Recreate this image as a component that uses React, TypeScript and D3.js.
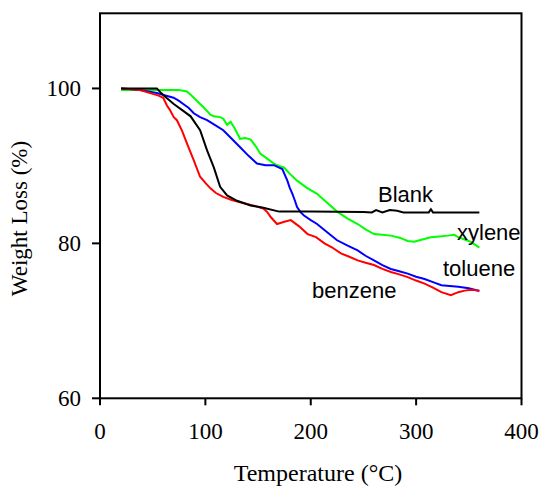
import React from "react";
import * as d3 from "d3";

const blankT = [20, 30, 40, 54, 58, 63, 70, 78, 86, 95, 101.6, 108, 114, 120.6, 130, 143, 155, 170, 200, 250, 258, 262, 268, 275, 282, 288, 300, 312, 314, 316, 340, 360];
const blankW = [100, 100, 100, 100, 99.4, 98.8, 98.0, 97.2, 96.4, 94.6, 92, 89.8, 87.3, 86.2, 85.5, 84.9, 84.6, 84.1, 84.1, 84.05, 84.0, 84.3, 84.0, 84.3, 84.2, 84.0, 84.0, 84.0, 84.4, 84.0, 84.0, 84.0];

const benzeneT = [20, 30, 38, 47.6, 55, 60, 63.5, 66, 70, 73, 78, 82.5, 89, 95, 100, 104.8, 110, 117, 125, 133, 145, 155, 159, 162, 168, 175, 181, 189, 197, 205, 213, 220, 228.6, 236, 244.5, 252, 260, 268, 276, 284, 292, 300, 308, 316, 324, 333, 340, 346, 352, 360];
const benzeneW = [100, 99.9, 99.8, 99.4, 99.1, 98.8, 97.8, 97.3, 96.3, 95.9, 94.5, 92.9, 90.7, 88.6, 87.8, 87.1, 86.5, 86.0, 85.6, 85.3, 84.9, 84.5, 84.0, 83.4, 82.5, 82.8, 83.0, 82.2, 81.2, 80.8, 80.0, 79.5, 78.7, 78.3, 77.8, 77.5, 77.2, 76.7, 76.3, 76.0, 75.65, 75.2, 74.8, 74.3, 73.7, 73.3, 73.7, 73.9, 74.0, 73.9];

const tolueneT = [20, 30, 38, 46, 54, 62, 69.8, 75, 79, 84, 89, 95, 101.6, 110, 117, 125, 133, 141, 149, 157, 165, 173, 177.8, 180, 182.6, 185, 187, 190.5, 193.6, 200, 206, 215, 225, 235, 244.5, 252, 260, 268, 276, 284, 292, 300, 308, 316, 324, 332, 340, 350, 360];
const tolueneW = [100, 99.9, 99.8, 99.6, 99.4, 99.1, 98.8, 98.4, 98.0, 97.5, 96.8, 96.3, 95.9, 95.2, 94.6, 93.5, 92.4, 91.3, 90.3, 90.1, 90.1, 89.6, 88.1, 87.2, 86.4, 85.5, 84.7, 84.0, 83.6, 83.0, 82.5, 81.5, 80.4, 79.7, 79.1, 78.4, 77.8, 77.2, 76.7, 76.4, 76.1, 75.7, 75.4, 75.0, 74.6, 74.5, 74.4, 74.2, 73.85];

const xyleneT = [20, 40, 60, 75, 82.5, 86, 89, 95, 98, 104.8, 108, 114, 117, 120.6, 124, 128, 133, 138, 143, 148, 152, 158, 165, 170, 174.6, 180, 187, 196, 206, 215, 225, 235, 244.5, 252, 260, 268, 276, 285, 292, 298, 306, 314, 322, 330, 336, 340, 346, 352, 360];
const xyleneW = [99.8, 99.8, 99.8, 99.8, 99.6, 99.2, 98.8, 98.0, 97.6, 96.6, 96.4, 96.3, 96.1, 95.3, 95.7, 94.8, 93.5, 93.6, 93.4, 92.5, 91.6, 91.0, 90.3, 90.0, 89.8, 89.0, 88.1, 87.2, 86.4, 85.3, 84.1, 83.2, 82.5, 81.8, 81.2, 81.1, 81.0, 80.7, 80.3, 80.2, 80.5, 80.8, 80.9, 81.0, 81.1, 80.8, 80.5, 80.2, 79.45];

const xTicks = [0, 100, 200, 300, 400];
const yTicks = [60, 80, 100];
const xDomain = [0, 400];
const yDomain = [60, 109.7];

const seriesNames = ["xylene", "toluene", "benzene", "Blank"];
const seriesColors = ["#00ff00", "#0000ff", "#ff0000", "#000000"];

export default function App() {
  const W = 546, H = 486;
  const left = 100, right = 521.5, top = 13.3, bottom = 398.3;
  const x = d3.scaleLinear().domain(xDomain).range([left, right]);
  const y = d3.scaleLinear().domain(yDomain).range([bottom, top]);
  const line = d3.line<[number, number]>().x(d => x(d[0])).y(d => y(d[1]));

  const zip = (a: number[], b: number[]) => a.map((v, i) => [v, b[i]] as [number, number]);
  const series = [
    zip(xyleneT, xyleneW),
    zip(tolueneT, tolueneW),
    zip(benzeneT, benzeneW),
    zip(blankT, blankW),
  ];

  const serif = "'Liberation Serif', 'Times New Roman', serif";
  const sans = "'Liberation Sans', Arial, sans-serif";

  const labels = [
    { name: seriesNames[3], xs: 378, ys: 202 },
    { name: seriesNames[0], xs: 457, ys: 240 },
    { name: seriesNames[1], xs: 443, ys: 275.5 },
    { name: seriesNames[2], xs: 312, ys: 298 },
  ];

  return (
    <svg width={W} height={H} style={{ position: "absolute", left: 0, top: 0, background: "#fff" }}>
      <rect x={0} y={0} width={W} height={H} fill="#fff" />
      {series.map((s, i) => (
        <path key={i} d={line(s) || ""} fill="none" stroke={seriesColors[i]} strokeWidth={2} strokeLinejoin="miter" />
      ))}
      <rect x={left} y={top} width={right - left} height={bottom - top} fill="none" stroke="#000" strokeWidth={2} />
      {xTicks.map(t => (
        <g key={t}>
          <line x1={x(t)} x2={x(t)} y1={bottom} y2={bottom + 7} stroke="#000" strokeWidth={2} />
          <text x={x(t)} y={439} textAnchor="middle" fontFamily={serif} fontSize={23}>{t}</text>
        </g>
      ))}
      {yTicks.map(t => (
        <g key={t}>
          <line x1={left - 8} x2={left} y1={y(t)} y2={y(t)} stroke="#000" strokeWidth={2} />
          <text x={81} y={y(t) + 7.5} textAnchor="end" fontFamily={serif} fontSize={23}>{t}</text>
        </g>
      ))}
      <text x={318} y={480.5} textAnchor="middle" fontFamily={serif} fontSize={24}>Temperature (°C)</text>
      <text transform="translate(27,218.5) rotate(-90)" textAnchor="middle" fontFamily={serif} fontSize={23}>Weight Loss (%)</text>
      {labels.map(l => (
        <text key={l.name} x={l.xs} y={l.ys} fontFamily={sans} fontSize={22}>{l.name}</text>
      ))}
    </svg>
  );
}
